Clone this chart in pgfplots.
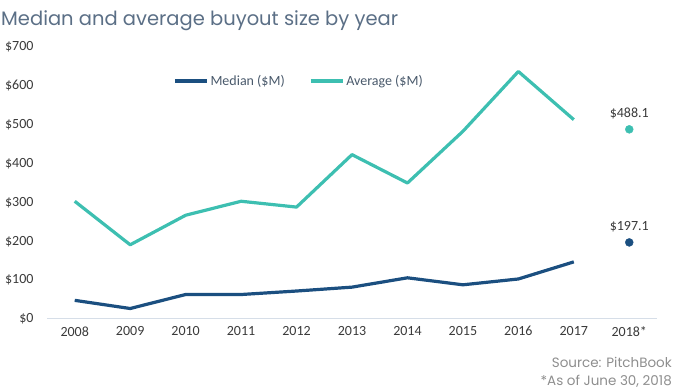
\documentclass[border=0pt]{standalone}
\usepackage{pgfplots}
\pgfplotsset{compat=1.18}
\usepackage{fontspec}
\setmainfont{Carlito}
\newfontfamily\titlefont{Poppins}
\definecolor{medc}{HTML}{1B4F80}
\definecolor{avgc}{HTML}{3DBFB1}
\definecolor{titlec}{HTML}{5B6F86}
\definecolor{tickc}{HTML}{3A3A3A}
\definecolor{basec}{HTML}{D6DEE8}
\definecolor{srcc}{HTML}{8E8E8E}
\begin{document}
\begin{tikzpicture}
\useasboundingbox (0,0) rectangle (673pt,391pt);
\node[anchor=base west, inner sep=0pt, text=titlec, font=\titlefont\fontsize{19.5}{22}\selectfont] at (1pt,365pt) {Median and average buyout size by year};
\node[anchor=base east, inner sep=0pt, text=srcc, font=\titlefont\fontsize{13.5}{16}\selectfont] at (672pt,23pt) {Source: PitchBook};
\node[anchor=base east, inner sep=0pt, text=srcc, font=\titlefont\fontsize{13.5}{16}\selectfont] at (672pt,5.5pt) {*As of June 30, 2018};
\begin{axis}[
  at={(47pt,72pt)}, anchor=south west,
  scale only axis, width=610pt, height=272pt,
  xmin=-0.5, xmax=10.5, ymin=0, ymax=700,
  axis x line*=bottom, axis y line*=left,
  x axis line style={basec, line width=1pt, -},
  y axis line style={draw=none},
  xtick={0,...,10},
  xticklabels={2008,2009,2010,2011,2012,2013,2014,2015,2016,2017,2018*},
  ytick={0,100,...,700},
  yticklabels={\$0,\$100,\$200,\$300,\$400,\$500,\$600,\$700},
  major tick length=0pt,
  ticklabel style={text=tickc, font=\fontsize{14}{16}\selectfont},
  xticklabel style={yshift=-4pt},
  yticklabel style={xshift=-10pt},
  clip=false,
  legend style={draw=none, fill=none, at={(0.2066,0.875)}, anchor=west,
    legend columns=2, font=\fontsize{14}{16}\selectfont, text=titlec!80!black,
    /tikz/every even column/.append style={column sep=22pt},
    inner sep=0pt, outer sep=0pt},
  legend cell align=left,
  legend image code/.code={\draw[#1, line width=3.5pt] (0pt,0pt) -- (32pt,0pt);},
]
\addplot[medc, line width=3.2pt, line join=round] coordinates {
 (0,48) (1,27) (2,63) (3,63) (4,72) (5,82) (6,106) (7,88) (8,103) (9,147)};
\addlegendentry{Median (\$M)}
\addplot[avgc, line width=3.2pt, line join=round] coordinates {
 (0,303) (1,191) (2,267) (3,303) (4,288) (5,423) (6,350) (7,483) (8,637) (9,513)};
\addlegendentry{Average (\$M)}
\addplot[only marks, mark=*, mark size=4pt, medc, forget plot,
  nodes near coords={\$197.1}, every node near coord/.style={text=tickc, font=\fontsize{14}{16}\selectfont, above, yshift=7pt}]
  coordinates {(10,197.1)};
\addplot[only marks, mark=*, mark size=4pt, avgc, forget plot,
  nodes near coords={\$488.1}, every node near coord/.style={text=tickc, font=\fontsize{14}{16}\selectfont, above, yshift=7pt}]
  coordinates {(10,488.1)};
\end{axis}
\end{tikzpicture}
\end{document}
